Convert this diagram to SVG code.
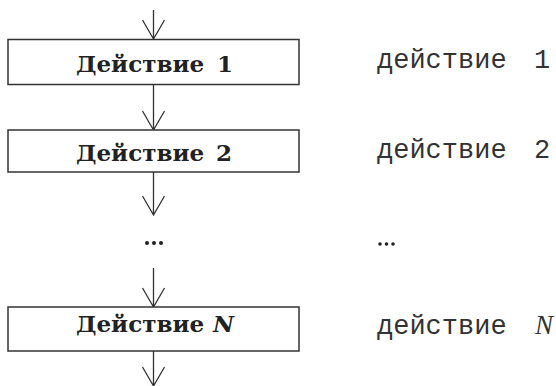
<svg xmlns="http://www.w3.org/2000/svg" width="556" height="386" viewBox="0 0 556 386">
<defs>
<style>
.box{fill:#fff;stroke:#333;stroke-width:1.5}
.bt{font-family:"DejaVu Serif",serif;font-weight:bold;font-size:23px;fill:#222}
.mt{font-family:"Liberation Mono",monospace;font-size:27px;fill:#333}
.ln{stroke:#333;stroke-width:1.3;fill:none}
.dots{fill:#222}
</style>
</defs>
<rect width="556" height="386" fill="#fff"/>
<g id="connectors">
<path class="ln" d="M153.5 10V39M142.5 20L153.5 39L164.5 20"/>
<path class="ln" d="M153.5 85V130M142.5 111L153.5 130L164.5 111"/>
<path class="ln" d="M153.5 172V215M142.5 196L153.5 215L164.5 196"/>
<path class="ln" d="M153.5 268V307M142.5 288L153.5 307L164.5 288"/>
<path class="ln" d="M153.5 351V386M142.5 367L153.5 386L164.5 367"/>
</g>
<g id="node1">
<rect class="box" x="8" y="39.5" width="291" height="45"/>
<text class="bt" x="76" y="72">Действие<tspan x="217">1</tspan></text>
</g>
<g id="node2">
<rect class="box" x="8" y="130" width="291" height="42"/>
<text class="bt" x="76" y="161">Действие<tspan x="216">2</tspan></text>
</g>
<g id="dots">
<circle class="dots" cx="147" cy="243" r="2"/>
<circle class="dots" cx="154" cy="243" r="2"/>
<circle class="dots" cx="161" cy="243" r="2"/>
</g>
<g id="nodeN">
<rect class="box" x="8" y="307" width="291" height="44"/>
<text class="bt" x="76" y="332">Действие<tspan x="213" font-style="italic">N</tspan></text>
</g>
<g id="labels">
<text class="mt" x="377" y="68">действие<tspan x="534">1</tspan></text>
<text class="mt" x="377" y="158">действие<tspan x="534">2</tspan></text>
<circle class="dots" cx="380" cy="244" r="1.8"/>
<circle class="dots" cx="386.5" cy="244" r="1.8"/>
<circle class="dots" cx="393" cy="244" r="1.8"/>
<text class="mt" x="377" y="334">действие<tspan x="535" font-family="Liberation Serif,serif" font-style="italic">N</tspan></text>
</g>
</svg>
